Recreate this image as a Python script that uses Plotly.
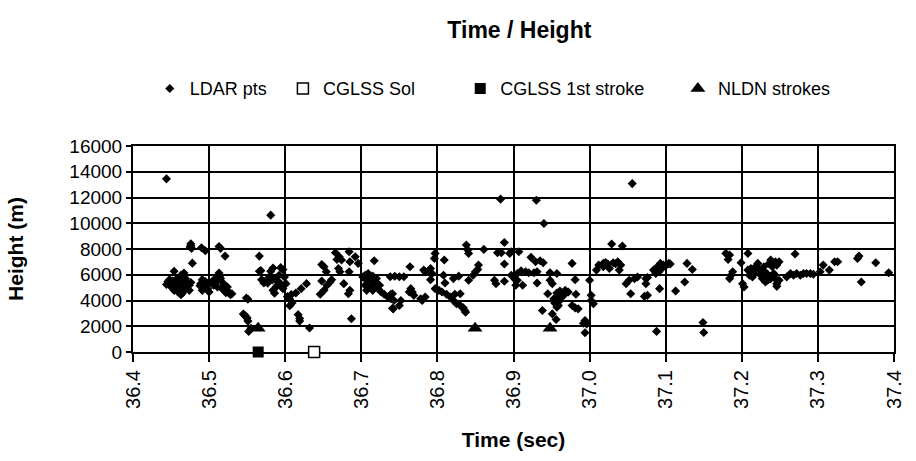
import plotly.graph_objects as go

# LDAR source points: time (s) and height (m)
ldar_time = [
    36.444, 36.454, 36.467, 36.448, 36.452, 36.458, 36.463, 36.469, 36.471, 36.457,
    36.461, 36.467, 36.454, 36.459, 36.465, 36.474, 36.448, 36.446, 36.474, 36.465,
    36.461, 36.450, 36.456, 36.470, 36.463, 36.468, 36.452, 36.476, 36.444, 36.478,
    36.476, 36.476, 36.477, 36.475, 36.490, 36.495, 36.513, 36.515, 36.521, 36.491,
    36.495, 36.489, 36.493, 36.498, 36.500, 36.491, 36.498, 36.488, 36.513, 36.508,
    36.504, 36.515, 36.519, 36.511, 36.517, 36.521, 36.526, 36.530, 36.506, 36.524,
    36.504, 36.510, 36.514, 36.522, 36.528, 36.549, 36.551, 36.545, 36.547, 36.548,
    36.550, 36.551, 36.552, 36.555, 36.566, 36.568, 36.572, 36.566, 36.581, 36.584,
    36.597, 36.573, 36.577, 36.586, 36.590, 36.594, 36.579, 36.588, 36.599, 36.597,
    36.584, 36.601, 36.569, 36.592, 36.586, 36.594, 36.583, 36.596, 36.590, 36.581,
    36.608, 36.603, 36.606, 36.609, 36.606, 36.617, 36.619, 36.619, 36.632, 36.614,
    36.621, 36.628, 36.648, 36.646, 36.651, 36.655, 36.659, 36.661, 36.648, 36.651,
    36.654, 36.666, 36.668, 36.671, 36.674, 36.670, 36.672, 36.684, 36.685, 36.692,
    36.696, 36.684, 36.717, 36.677, 36.685, 36.683, 36.687, 36.705, 36.709, 36.715,
    36.720, 36.707, 36.713, 36.717, 36.705, 36.711, 36.715, 36.722, 36.726, 36.730,
    36.735, 36.707, 36.702, 36.724, 36.739, 36.742, 36.710, 36.718, 36.738, 36.744,
    36.750, 36.756, 36.741, 36.743, 36.752, 36.741, 36.750, 36.739, 36.765, 36.767,
    36.769, 36.763, 36.778, 36.780, 36.784, 36.764, 36.782, 36.791, 36.793, 36.791,
    36.784, 36.797, 36.796, 36.809, 36.808, 36.810, 36.797, 36.802, 36.806, 36.812,
    36.817, 36.821, 36.825, 36.830, 36.834, 36.837, 36.836, 36.830, 36.823, 36.821,
    36.828, 36.841, 36.847, 36.850, 36.854, 36.853, 36.838, 36.840, 36.841, 36.861,
    36.879, 36.884, 36.888, 36.895, 36.897, 36.888, 36.875, 36.877, 36.888, 36.897,
    36.901, 36.903, 36.905, 36.883, 36.930, 36.940, 36.907, 36.923, 36.929, 36.935,
    36.939, 36.977, 36.910, 36.916, 36.920, 36.927, 36.931, 36.948, 36.957, 36.905,
    36.912, 36.931, 36.948, 36.951, 36.981, 36.945, 36.957, 36.961, 36.968, 36.972,
    36.982, 36.953, 36.956, 36.959, 36.957, 36.966, 36.977, 36.981, 36.985, 36.954,
    36.961, 36.963, 36.958, 36.938, 36.956, 36.951, 36.994, 36.996, 36.992, 36.994,
    37.000, 37.002, 37.002, 37.005, 37.009, 37.012, 37.018, 37.024, 37.031, 37.037,
    37.041, 37.039, 37.018, 37.026, 37.021, 37.034, 37.029, 37.043, 37.048, 37.052,
    37.054, 37.059, 37.063, 37.072, 37.076, 37.074, 37.056, 37.074, 37.076, 37.084,
    37.089, 37.093, 37.097, 37.104, 37.091, 37.095, 37.087, 37.106, 37.100, 37.092,
    37.113, 37.125, 37.128, 37.135, 37.088, 37.149, 37.150, 37.179, 37.184, 37.182,
    37.186, 37.188, 37.184, 37.199, 37.208, 37.203, 37.201, 37.208, 37.212, 37.216,
    37.218, 37.223, 37.225, 37.227, 37.229, 37.231, 37.233, 37.236, 37.238, 37.240,
    37.242, 37.244, 37.246, 37.221, 37.214, 37.210, 37.229, 37.234, 37.238, 37.233,
    37.246, 37.249, 37.244, 37.246, 37.249, 37.246, 37.270, 37.259, 37.264, 37.268,
    37.272, 37.277, 37.281, 37.285, 37.290, 37.294, 37.303, 37.307, 37.315, 37.322,
    37.326, 37.352, 37.354, 37.357, 37.376, 37.393,
]
ldar_height = [
    13450, 6270, 6140, 5620, 5530, 5700, 5960, 5700, 5400, 5180,
    4920, 4790, 4790, 4660, 4580, 4790, 5310, 5480, 5180, 5310,
    5480, 5100, 5400, 5000, 4450, 5550, 4950, 5400, 5250, 6900,
    8400, 8250, 8050, 8150, 8100, 7860, 8200, 8050, 7450, 5620,
    5480, 5310, 5050, 4920, 4660, 4790, 5310, 5150, 6140, 5700,
    5480, 5700, 5310, 5050, 4920, 4790, 4660, 4530, 5180, 5050,
    5350, 5500, 5900, 4600, 4450, 4200, 4100, 2950, 2850, 2750,
    2650, 2400, 1600, 1850, 7450, 6320, 5360, 6270, 6270, 6520,
    6400, 5480, 5350, 5700, 5480, 5310, 5830, 5050, 5830, 4920,
    4790, 5310, 5620, 5960, 4570, 6550, 5600, 5100, 5200, 10630,
    4460, 4300, 4100, 3800, 3600, 2900, 2600, 2400, 1860, 4580,
    4920, 5310, 5520, 4480, 4790, 5180, 5440, 5620, 6800, 6620,
    6230, 7710, 7190, 7400, 7140, 6490, 6230, 7790, 7010, 7400,
    6880, 6230, 7090, 5310, 4790, 4530, 2580, 5960, 6100, 5890,
    5700, 5570, 5440, 5310, 5180, 5050, 4790, 4920, 4660, 4480,
    4270, 4790, 5830, 5180, 4480, 3350, 5700, 5500, 5850, 5880,
    5850, 5850, 4530, 4000, 4000, 3400, 3610, 4140, 4920, 4660,
    4400, 4660, 4140, 4000, 4270, 6620, 6360, 6490, 6100, 5620,
    6230, 7660, 7270, 7140, 5960, 5360, 4920, 4790, 4660, 4480,
    4270, 4000, 3750, 3610, 3430, 3090, 3220, 4530, 4480, 5700,
    5890, 5570, 5960, 6230, 6750, 6410, 8310, 7920, 7660, 7970,
    7710, 7710, 8500, 7660, 7790, 6830, 5570, 5310, 5490, 5960,
    5700, 5180, 6100, 11870, 11790, 9980, 7790, 7350, 7010, 7090,
    6930, 6880, 6300, 6230, 6150, 6150, 6230, 6150, 6100, 5570,
    5180, 5360, 5570, 5310, 5620, 4530, 4580, 4740, 4790, 4660,
    4480, 4140, 3880, 3610, 3480, 4400, 3610, 3430, 3350, 3800,
    4000, 4300, 4200, 3220, 2520, 2960, 2440, 2180, 2230, 1500,
    5570, 4400, 4000, 3750, 6360, 6750, 6880, 6830, 6930, 7010,
    6750, 6360, 6620, 6490, 6950, 6850, 8390, 8230, 5310, 5570,
    4530, 5700, 5830, 4320, 5780, 5310, 13080, 5700, 4400, 6360,
    6620, 6880, 6750, 6880, 6230, 6490, 6100, 6830, 6700, 4920,
    4740, 5440, 6880, 6410, 1600, 2290, 1520, 7660, 7530, 7190,
    5960, 6230, 5700, 6930, 7660, 5050, 5310, 6360, 6490, 6100,
    6620, 6360, 5960, 5700, 6230, 5440, 5830, 6880, 7140, 6620,
    6100, 7010, 6750, 6880, 5830, 5960, 6620, 5570, 5700, 6100,
    6880, 7010, 5700, 5310, 5570, 5100, 7610, 5830, 6100, 5960,
    6100, 5960, 6100, 6100, 6100, 6040, 6230, 6750, 6360, 7010,
    7010, 7270, 7450, 5440, 6930, 6150,
]
assert len(ldar_time) == len(ldar_height)

# CGLSS solution and first stroke (ground level)
cglss_sol_time = [36.638]
cglss_sol_height = [0]
cglss_first_time = [36.5645]
cglss_first_height = [0]

# NLDN strokes
nldn_time = [36.5645, 36.8495, 36.948]
nldn_height = [1850, 1850, 1850]

FONT = "Liberation Sans, Arial, sans-serif"

fig = go.Figure()
fig.add_trace(go.Scatter(
    x=ldar_time, y=ldar_height, mode="markers", name="LDAR pts",
    marker=dict(symbol="diamond", size=7, color="black"),
    cliponaxis=False, legend="legend",
))
fig.add_trace(go.Scatter(
    x=cglss_sol_time, y=cglss_sol_height, mode="markers", name="CGLSS Sol",
    marker=dict(symbol="square", size=11, color="white",
                line=dict(color="black", width=1.5)),
    cliponaxis=False, legend="legend2",
))
fig.add_trace(go.Scatter(
    x=cglss_first_time, y=cglss_first_height, mode="markers",
    name="CGLSS 1st stroke",
    marker=dict(symbol="square", size=11, color="black"),
    cliponaxis=False, legend="legend3",
))
fig.add_trace(go.Scatter(
    x=nldn_time, y=nldn_height, mode="markers", name="NLDN strokes",
    marker=dict(symbol="triangle-up", size=13, color="black"),
    cliponaxis=False, legend="legend4",
))

axis_common = dict(
    showline=True, linecolor="black", linewidth=2, mirror=True,
    showgrid=True, gridcolor="black", gridwidth=2,
    zeroline=False, ticks="outside", tickcolor="black", tickwidth=2,
    tickfont=dict(family=FONT, size=19, color="black"),
    layer="below traces",
)


def legend_box(x):
    return dict(
        orientation="h", x=x, xanchor="left", y=1.278, yanchor="middle",
        font=dict(family=FONT, size=18, color="black"),
        bgcolor="rgba(0,0,0,0)",
    )


fig.update_layout(
    width=916, height=461,
    margin=dict(l=133, r=11, t=146, b=109),
    paper_bgcolor="white", plot_bgcolor="white",
    font=dict(family=FONT, color="black"),
    title=dict(
        text="<b>Time / Height</b>", x=0.567, xref="container",
        y=0.935, yref="container", xanchor="center", yanchor="middle",
        font=dict(family=FONT, size=23, color="black"),
    ),
    showlegend=True,
    legend=legend_box(0.022),
    legend2=legend_box(0.197),
    legend3=legend_box(0.430),
    legend4=legend_box(0.716),
    xaxis=dict(
        axis_common, range=[36.4, 37.4], dtick=0.1, tick0=36.4,
        tickformat=".1f", tickangle=-90, ticklen=8,
        tickfont=dict(family=FONT, size=20, color="black"),
        title=dict(text="<b>Time (sec)</b>", standoff=24,
                   font=dict(family=FONT, size=21, color="black")),
    ),
    yaxis=dict(
        axis_common, range=[0, 16000], dtick=2000, tick0=0, ticklen=5,
        tickformat="d",
        title=dict(text="<b>Height (m)</b>", standoff=40,
                   font=dict(family=FONT, size=21, color="black")),
    ),
)

fig.write_html("out.html")
